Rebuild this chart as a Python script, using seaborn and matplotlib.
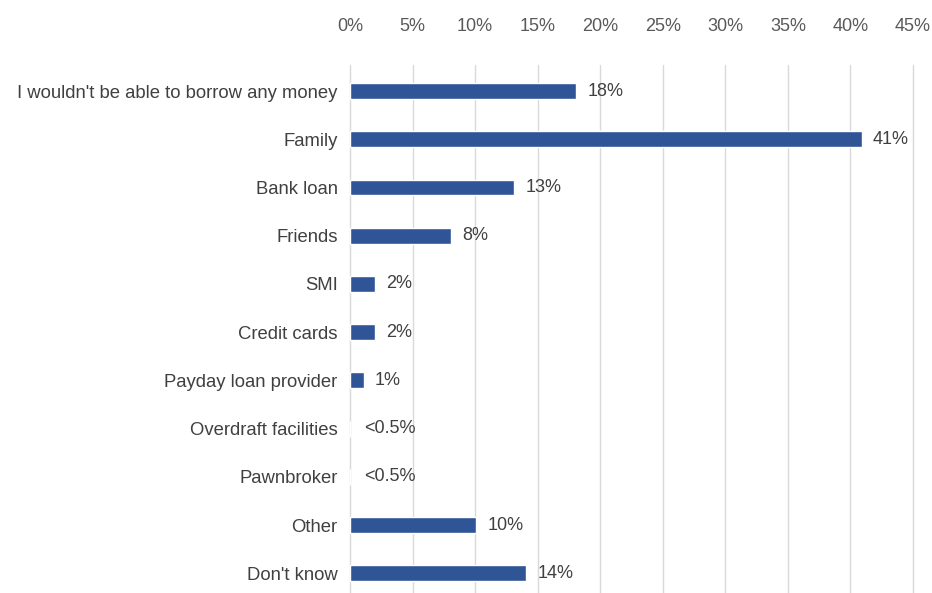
import matplotlib
matplotlib.use("Agg")
import matplotlib.pyplot as plt
import seaborn as sns
import pandas as pd

categories = ["I wouldn't be able to borrow any money", "Family", "Bank loan", "Friends",
              "SMI", "Credit cards", "Payday loan provider", "Overdraft facilities",
              "Pawnbroker", "Other", "Don't know"]
values = [18.1, 40.9, 13.1, 8.1, 2.0, 2.0, 1.1, 0.0, 0.0, 10.1, 14.1]
value_labels = ["18%", "41%", "13%", "8%", "2%", "2%", "1%", "<0.5%", "<0.5%", "10%", "14%"]
ticks = [0, 5, 10, 15, 20, 25, 30, 35, 40, 45]

sns.set_theme(style="white")
plt.rcParams['font.family'] = ['Liberation Sans', 'DejaVu Sans']

df = pd.DataFrame({"category": categories, "value": values})

fig = plt.figure(figsize=(9.32, 5.93), dpi=100)
# axes runs from figure bottom up to the top of the gridlines
ax = fig.add_axes([350 / 932, 0, 563 / 932, 528.5 / 593])

sns.barplot(data=df, x="value", y="category", color="#2F5597", saturation=1,
            width=0.33, ax=ax, zorder=3)

ax.set_xlim(0, 45)
ax.set_ylim(10.41, -0.55)
ax.set_xticks(ticks)
ax.set_xticklabels([f"{t}%" for t in ticks])
ax.xaxis.tick_top()
ax.tick_params(axis="x", length=0, pad=21, labelsize=13, labelcolor="#595959")
ax.tick_params(axis="y", length=0, pad=9, labelsize=13.3, labelcolor="#404040")
ax.set_xlabel("")
ax.set_ylabel("")
ax.grid(axis="x", color="#d9d9d9", linewidth=1, zorder=0)
for line in ax.get_xgridlines():
    line.set_clip_on(False)
for s in ax.spines.values():
    s.set_visible(False)

for i, (v, lab) in enumerate(zip(values, value_labels)):
    x = v + 0.9 if v > 0 else 1.1
    ax.text(x, i, lab, va="center", ha="left", fontsize=13, color="#404040")

fig.savefig("out.png", dpi=100)
